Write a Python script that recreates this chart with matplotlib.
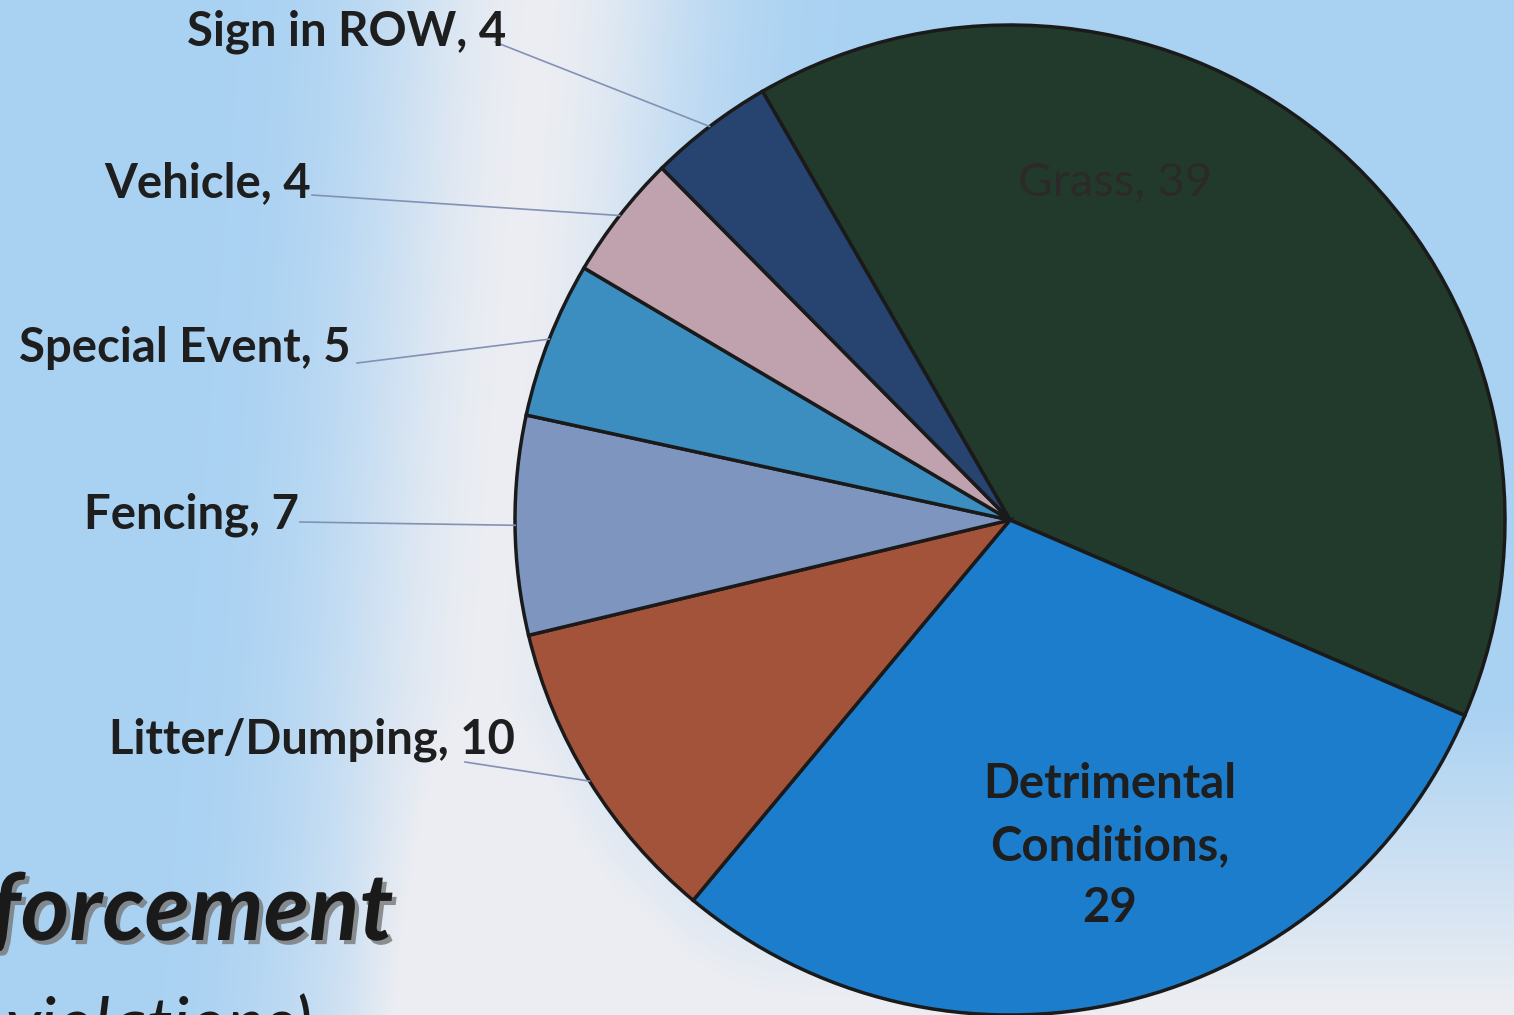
import numpy as np
import matplotlib.pyplot as plt
import matplotlib.patheffects as pe

# slice data (clockwise from the top)
categories = ['Grass', 'Detrimental\nConditions', 'Litter/Dumping', 'Fencing',
              'Special Event', 'Vehicle', 'Sign in ROW']
counts = [39, 29, 10, 7, 5, 4, 4]
colors = ['#223a2b', '#1c7dcd', '#a4533b', '#7e95c0', '#3c8ec0', '#c0a2af', '#27436f']

W, H = 1514, 1015
fig = plt.figure(figsize=(W / 100, H / 100), dpi=100)
plt.rcParams['font.family'] = ['Lato', 'DejaVu Sans']

# background: sky gradient with a pale cloud band, warmer toward the bottom right
bg = fig.add_axes([0, 0, 1, 1])
yy, xx = np.mgrid[0:H, 0:W]
sky = np.array([0.66, 0.82, 0.95])
white = np.array([0.97, 0.95, 0.95])
band = np.exp(-((xx - (540 - 0.08 * yy)) / 160.0) ** 2)
band = np.clip(band + np.clip((yy - 700) / 300.0, 0, 1) * np.clip((xx - 350) / 300.0, 0, 1), 0, 1)
img = sky[None, None, :] * (1 - band[..., None] * 0.85) + white[None, None, :] * band[..., None] * 0.85
bg.imshow(img, extent=[0, W, 0, H], origin='upper', aspect='auto')
bg.set_xlim(0, W)
bg.set_ylim(0, H)
bg.axis('off')

ax = fig.add_axes([0, 0, 1, 1])
ax.patch.set_alpha(0)
cx, cy, r = 1010, H - 520, 495
wedges, _ = ax.pie(counts, colors=colors, startangle=120, counterclock=False,
                   center=(cx, cy), radius=r,
                   wedgeprops=dict(edgecolor='#1a1a1a', linewidth=2.5))
ax.set_xlim(0, W)
ax.set_ylim(0, H)
ax.set_aspect('equal')
ax.axis('off')

# inside labels
ax.text(1115, H - 183, f'{categories[0]}, {counts[0]}', fontsize=34,
        color='#2c2a28', ha='center', va='center')
ax.text(1110, H - 846, f'{categories[1]},\n{counts[1]}', fontsize=34,
        fontweight='bold', color='#1e1e1e', ha='center', va='center',
        linespacing=1.5)

# outside labels with leader lines
outside = {
    6: ((347, 32), (495, 42)),
    5: ((208, 183), (312, 195)),
    4: ((185, 348), (357, 363)),
    3: ((191, 515), (300, 522)),
    2: ((312, 740), (465, 762)),
}
for i, ((tx, ty), (lx, ly)) in outside.items():
    w = wedges[i]
    mid = np.deg2rad((w.theta1 + w.theta2) / 2)
    ex, ey = cx + r * np.cos(mid), cy + r * np.sin(mid)
    ax.plot([lx, ex], [H - ly, ey], color='#8391b5', lw=1.2, zorder=1)
    ax.text(tx, H - ty, f'{categories[i]}, {counts[i]}', fontsize=34,
            fontweight='bold', color='#1e1e1e', ha='center', va='center')

# slide title fragments (cut off at the edges, as on the slide)
ax.text(-10, H - 940, 'forcement', fontsize=67, fontweight='bold',
        style='italic', color='#1a1a1a', ha='left', va='baseline',
        path_effects=[pe.SimplePatchShadow(offset=(3, -3), shadow_rgbFace='#777777', alpha=0.8),
                      pe.Normal()])
ax.text(5, H - 1050, 'violations)', fontsize=52, style='italic',
        color='#1a1a1a', ha='left', va='baseline')

fig.savefig('out.png', dpi=100)
